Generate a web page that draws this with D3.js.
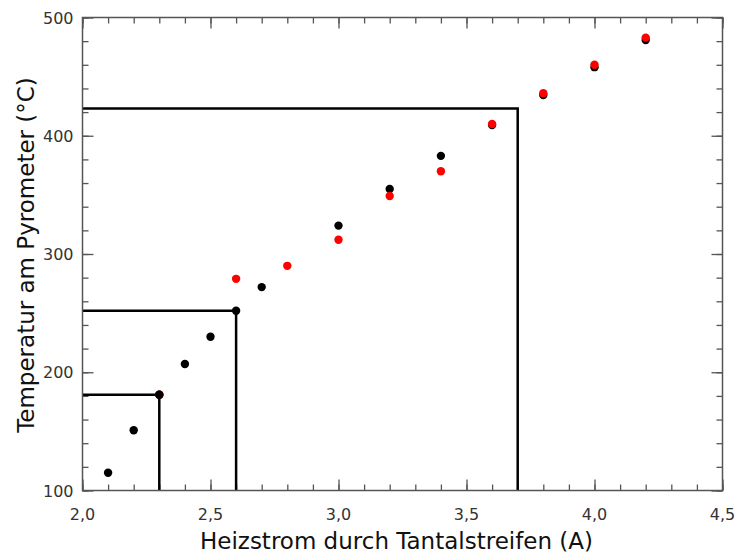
<!DOCTYPE html>
<html>
<head>
<meta charset="utf-8">
<script src="https://cdn.jsdelivr.net/npm/d3@7"></script>
<style>
  body { margin: 0; background: #fff; }
  text { font-family: "DejaVu Sans", sans-serif; }
</style>
</head>
<body>
<script>
// Heizstrom (A) vs. Temperatur (°C)
var blackCurrent = [2.1, 2.2, 2.3, 2.4, 2.5, 2.6, 2.7, 3.0, 3.2, 3.4, 3.6, 3.8, 4.0, 4.2];
var blackTemp    = [115, 151, 181, 207, 230, 252, 272, 324, 355, 383, 409, 434.5, 458, 481];

var redCurrent = [2.3, 2.6, 2.8, 3.0, 3.2, 3.4, 3.6, 3.8, 4.0, 4.2];
var redTemp    = [181, 279, 290, 312, 349, 370, 410, 436, 460, 483];

// Hilfslinien (Ablesung)
var guideCurrent = [2.3, 2.6, 3.7];
var guideTemp    = [181, 252, 423];

var xTicks = [2.0, 2.5, 3.0, 3.5, 4.0, 4.5];
var yTicks = [100, 200, 300, 400, 500];

var width = 737,
    height = 554;
var margin = {top: 17.5, right: 14.5, bottom: 63.5, left: 82.5};

var svg = d3.select("body")
    .append("svg")
    .attr("width", width)
    .attr("height", height);

var x = d3.scaleLinear()
    .domain([2.0, 4.5])
    .range([margin.left, width - margin.right]);

var y = d3.scaleLinear()
    .domain([100, 500])
    .range([height - margin.bottom, margin.top]);

var axisColor = "#555";

//minor ticks every 0.1 A / 20 °C, inward on all four sides
var xMinor = d3.range(2.0, 4.5001, 0.1);
var yMinor = d3.range(100, 500.001, 20);

function drawAxis(axisFn, scale, pos, values, size){
    var g = svg.append("g")
        .attr("transform", pos)
        .call(axisFn(scale).tickValues(values).tickSize(size).tickFormat(""));
    g.select(".domain").remove();
    g.selectAll("line").attr("stroke", axisColor).attr("stroke-width", 1.3);
    return g;
}

var bottomY = y(100), topY = y(500), leftX = x(2.0), rightX = x(4.5);

drawAxis(d3.axisTop, x, "translate(0," + bottomY + ")", xMinor, 6);
drawAxis(d3.axisTop, x, "translate(0," + bottomY + ")", xTicks, 11);
drawAxis(d3.axisBottom, x, "translate(0," + topY + ")", xMinor, 6);
drawAxis(d3.axisBottom, x, "translate(0," + topY + ")", xTicks, 11);
drawAxis(d3.axisRight, y, "translate(" + leftX + ",0)", yMinor, 6);
drawAxis(d3.axisRight, y, "translate(" + leftX + ",0)", yTicks, 11);
drawAxis(d3.axisLeft, y, "translate(" + rightX + ",0)", yMinor, 6);
drawAxis(d3.axisLeft, y, "translate(" + rightX + ",0)", yTicks, 11);

//tick labels
svg.append("g").selectAll("text")
    .data(xTicks)
    .enter()
    .append("text")
    .attr("x", function(d){ return x(d); })
    .attr("y", bottomY + 29)
    .attr("text-anchor", "middle")
    .attr("font-size", 16)
    .attr("fill", "#333")
    .text(function(d){ return d3.format(".1f")(d).replace(".", ","); });

svg.append("g").selectAll("text")
    .data(yTicks)
    .enter()
    .append("text")
    .attr("x", leftX - 9)
    .attr("y", function(d){ return y(d) + 6; })
    .attr("text-anchor", "end")
    .attr("font-size", 16)
    .attr("fill", "#333")
    .text(function(d){ return d; });

//guide lines
guideCurrent.forEach(function(c, i){
    svg.append("path")
        .attr("d", d3.line()([[x(2.0), y(guideTemp[i])], [x(c), y(guideTemp[i])], [x(c), y(100)]]))
        .attr("fill", "none")
        .attr("stroke", "#000")
        .attr("stroke-width", 2.5);
});

//frame
svg.append("rect")
    .attr("x", leftX)
    .attr("y", topY)
    .attr("width", rightX - leftX)
    .attr("height", bottomY - topY)
    .attr("fill", "none")
    .attr("stroke", axisColor)
    .attr("stroke-width", 1.5);

//points: black under red
svg.append("g").selectAll("circle")
    .data(blackCurrent)
    .enter()
    .append("circle")
    .attr("cx", function(d){ return x(d); })
    .attr("cy", function(d, i){ return y(blackTemp[i]); })
    .attr("r", 4.2)
    .attr("fill", "#000");

svg.append("g").selectAll("circle")
    .data(redCurrent)
    .enter()
    .append("circle")
    .attr("cx", function(d){ return x(d); })
    .attr("cy", function(d, i){ return y(redTemp[i]); })
    .attr("r", 4.2)
    .attr("fill", "#f00");

//black dot at 2.3 sits on top of the red one
svg.append("circle")
    .attr("cx", x(blackCurrent[2]))
    .attr("cy", y(blackTemp[2]))
    .attr("r", 4.2)
    .attr("fill", "#000");

//axis titles
svg.append("text")
    .attr("x", (leftX + rightX) / 2 - 6)
    .attr("y", 549)
    .attr("text-anchor", "middle")
    .attr("font-size", 23)
    .attr("fill", "#111")
    .text("Heizstrom durch Tantalstreifen (A)");

svg.append("text")
    .attr("transform", "translate(34,255) rotate(-90)")
    .attr("text-anchor", "middle")
    .attr("font-size", 23)
    .attr("fill", "#111")
    .text("Temperatur am Pyrometer (°C)");
</script>
</body>
</html>
